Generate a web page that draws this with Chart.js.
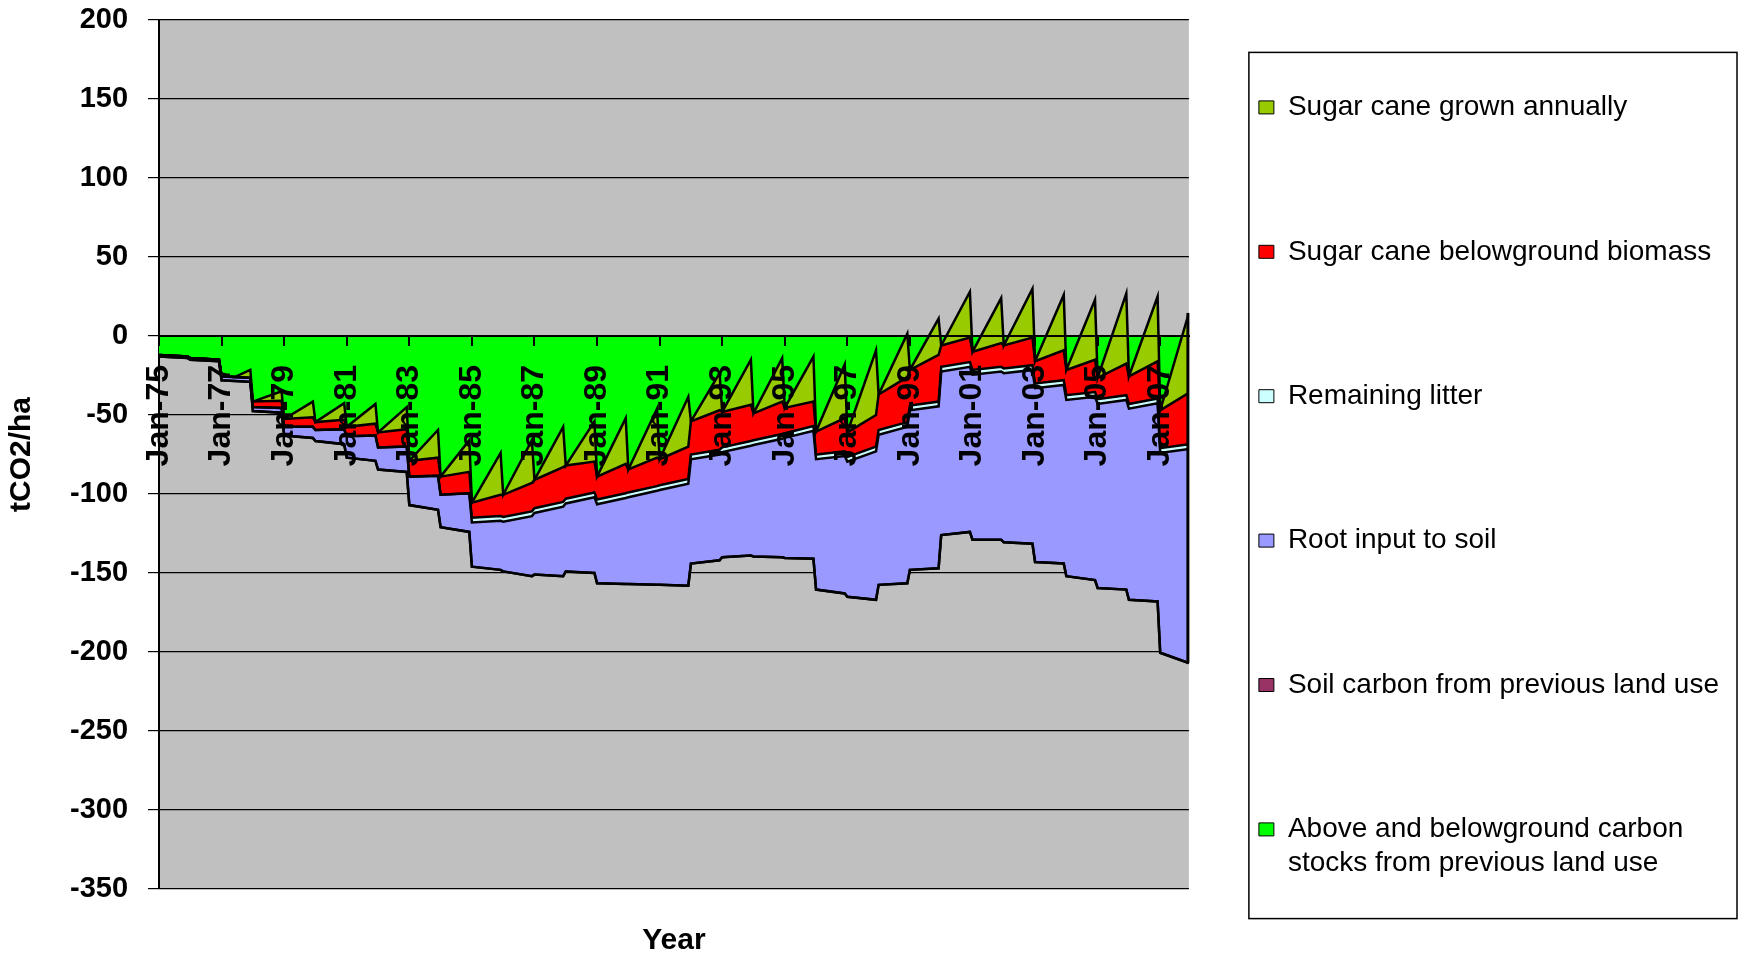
<!DOCTYPE html>
<html>
<head>
<meta charset="utf-8">
<title>Carbon stocks</title>
<script src="https://cdn.jsdelivr.net/npm/chart.js@4.4.1/dist/chart.umd.min.js"></script>
<style>
  html, body { margin: 0; padding: 0; background: #ffffff; }
  #wrap { width: 1739px; height: 956px; }
</style>
</head>
<body>
<div id="wrap"><canvas id="carbonChart" width="1739" height="956"></canvas></div>
<script>
// month number from Jan-75 (0) to Dec-07 (395), corners of the yearly saw teeth
const monthIndex = [
  0, 11,   12, 23,   24, 29, 35,   36, 47,   48, 59,   60, 71,   72, 83,   84, 95,
  96, 107, 108, 119, 120, 131, 132, 143, 144, 155, 156, 167, 168, 179, 180, 191,
  192, 203, 204, 215, 216, 227, 228, 239, 240, 251, 252, 263, 264, 275, 276, 287,
  288, 299, 300, 311, 312, 323, 324, 335, 336, 347, 348, 359, 360, 371, 372, 383,
  384, 395
];

const tickMonths = [0, 24, 48, 72, 96, 120, 144, 168, 192, 216, 240, 264, 288, 312, 336, 360, 384];
const tickLabels = ['Jan-75', 'Jan-77', 'Jan-79', 'Jan-81', 'Jan-83', 'Jan-85', 'Jan-87', 'Jan-89',
  'Jan-91', 'Jan-93', 'Jan-95', 'Jan-97', 'Jan-99', 'Jan-01', 'Jan-03', 'Jan-05', 'Jan-07'];

// series values (tCO2/ha), stacked in this order
const aboveBelowStocks = [
  -13, -14,   -15, -16,   -28, -28.5, -29,   -47.5, -48.5,   -63, -64.5,   -66.5, -68.5,
  -77, -79,   -84.5, -86,   -107, -110,   -121, -124,   -146, -148,   -149, -152,
  -151, -152,   -149, -150,   -156.5, -157,   -157, -157.5,   -157.5, -158,   -144, -142,
  -140, -139,   -139.5, -140,   -140.5, -141,   -160.5, -163,   -165, -167,   -157.5, -156.5,
  -148, -147,   -126, -124,   -129, -129,   -130.5, -131.5,   -143, -144,   -152, -154.5,
  -159.5, -160.5,   -167, -168,   -200.5, -207
];
const soilCarbonPrevious = [
  0, 0,   0, 0,   0, 0, 0,   0, 0,   0, 0,   0, 0,   0, 0,   0, 0,   0, 0,   0, 0,
  0, 0,   0, 0,   0, 0,   0, 0,   0, 0,   0, 0,   0, 0,   0, 0,   0, 0,   0, 0,
  0, 0,   0, 0,   0, 0,   0, 0,   0, 0,   0, 0,   0, 0,   0, 0,   0, 0,   0, 0,
  0, 0,   0, 0,   0, 0
];
const rootInput = [
  1, 1,   1, 1,   2.5, 2.5, 2.5,   2.5, 3,   5.5, 7,   7, 9.5,   13.5, 16,   14, 16,
  18, 21.5,   20.5, 24.5,   28, 31,   31.5, 38,   39, 44,   43, 48,   50, 54.5,
  55, 59.5,   60, 64.5,   66, 67,   66.5, 69.5,   70.5, 75,   76, 81,   82.5, 87,
  85.5, 94,   95, 99,   101, 102.5,   103.5, 104.5,   104.5, 106.5,   107, 110,
  110, 113,   111.5, 116,   116.5, 120,   121, 125.5,   126.5, 135.5
];
const remainingLitter = [
  0, 0,   0, 0,   0, 0, 0,   0, 0,   0, 0,   0, 0,   0, 0,   0, 0,   0, 0,   0, 0,
  3, 3,   3, 3,   3, 3,   3, 3,   3, 3,   3, 3,   3, 3,   3, 3,   3, 3,   3, 3,
  3, 3,   3, 3,   3, 3,   3, 3,   3, 3,   3, 3,   3, 3,   3, 3,   3, 3,   3, 3,
  3, 3,   3, 3,   3, 3
];
const caneBelowground = [
  0, 0,   0, 0,   0, 0, 0,   3.5, 4.5,   5, 6,   5, 6,   6, 7.5,   9.5, 11,   10, 11.5,
  11.5, 13.5,   9.5, 13.5,   14, 18,   18, 22,   21, 19.5,   14.5, 18.5,   14.5, 18,
  16.5, 20.5,   21, 25,   22.5, 23,   17, 20.5,   16, 15.5,   14.5, 21,   15.5, 20,
  22.5, 28.5,   22.5, 29.5,   13.5, 15.5,   11.5, 15,   14.5, 17.5,   14, 19,
  16, 20.5,   13.5, 20,   17.5, 23.5,   24, 32.5
];
const caneAnnual = [
  0, 0,   0, 0,   0, 0, 5,   0, 6,   0, 10,   0, 10.5,   0, 12.5,   0, 14,   0, 17.5,
  0, 20,   0, 26.5,   0, 27,   0, 25.5,   0, 25.5,   0, 29,   0, 31,   0, 31.5,
  0, 23.5,   0, 28.5,   0, 27.5,   0, 28.5,   0, 34,   0, 41,   0, 27.5,   0, 23,
  0, 29,   0, 28.5,   0, 31,   0, 35,   0, 38,   0, 44.5,   0, 41,   0, 50.5
];

const seriesNames = [
  'Above and belowground carbon stocks from previous land use',
  'Soil carbon from previous land use',
  'Root input to soil',
  'Remaining litter',
  'Sugar cane belowground biomass',
  'Sugar cane grown annually'
];
const seriesColors = ['#00FF00', '#993366', '#9999FF', '#CCFFFF', '#FF0000', '#99CC00'];
const longLabelLines = ['Above and belowground carbon', 'stocks from previous land use'];

// running totals so each area sits on the one below it
const seriesValues = [aboveBelowStocks, soilCarbonPrevious, rootInput, remainingLitter, caneBelowground, caneAnnual];
const running = monthIndex.map(() => 0);
const stackedLines = seriesValues.map((vals) => {
  vals.forEach((v, i) => { running[i] += v; });
  return monthIndex.map((m, i) => ({ x: m, y: running[i] }));
});

// grey plot area
const plotBackground = {
  id: 'plotBackground',
  beforeDraw(chart) {
    const { ctx, chartArea } = chart;
    ctx.save();
    ctx.fillStyle = '#C0C0C0';
    ctx.fillRect(chartArea.left, chartArea.top, chartArea.right - chartArea.left, chartArea.bottom - chartArea.top);
    ctx.restore();
  }
};

// Excel outlines the areas, so close them on the right hand side too
const areaEdge = {
  id: 'areaEdge',
  afterDatasetsDraw(chart) {
    const { ctx, scales } = chart;
    const last = monthIndex.length - 1;
    const topLine = stackedLines[stackedLines.length - 1];
    const x = scales.x.getPixelForValue(monthIndex[last]);
    const yTop = scales.y.getPixelForValue(Math.max(topLine[last].y, 0));
    const yBottom = scales.y.getPixelForValue(stackedLines[0][last].y);
    ctx.save();
    ctx.strokeStyle = '#000';
    ctx.lineWidth = 3;
    ctx.beginPath();
    ctx.moveTo(x - 1, yTop);
    ctx.lineTo(x - 1, yBottom);
    ctx.stroke();
    ctx.restore();
  }
};

// frame round the legend, like the Excel one
const legendFrame = {
  id: 'legendFrame',
  afterDraw(chart) {
    const boxes = chart.legend && chart.legend.legendHitBoxes;
    if (!boxes || !boxes.length) return;
    const first = boxes[0];
    const last = boxes[boxes.length - 1];
    const left = Math.min(...boxes.map(b => b.left)) - 10;
    const top = first.top - 41;
    const bottom = last.top + last.height + 36;
    const right = chart.width - 2;
    const ctx = chart.ctx;
    ctx.save();
    ctx.strokeStyle = '#000';
    ctx.lineWidth = 1.5;
    ctx.strokeRect(left, top, right - left, bottom - top);
    ctx.restore();
  }
};

Chart.defaults.font.family = '"Liberation Sans", Arial, sans-serif';
Chart.defaults.color = '#000';

const ctx = document.getElementById('carbonChart').getContext('2d');
new Chart(ctx, {
  type: 'line',
  data: {
    datasets: seriesValues.map((vals, i) => ({
      label: seriesNames[i],
      data: stackedLines[i],
      backgroundColor: seriesColors[i],
      borderColor: '#000',
      borderWidth: 2.5,
      pointRadius: 0,
      tension: 0,
      fill: i === 0 ? 'origin' : '-1',
      order: seriesValues.length - i
    }))
  },
  options: {
    responsive: false,
    animation: false,
    events: [],
    layout: { padding: { top: 20, right: 10, bottom: 0, left: 0 } },
    scales: {
      x: {
        type: 'linear',
        position: { y: 0 },
        min: 0,
        max: 395,
        afterBuildTicks: (scale) => { scale.ticks = tickMonths.map(v => ({ value: v })); },
        ticks: {
          autoSkip: false,
          minRotation: 90,
          maxRotation: 90,
          padding: 20,
          z: 1,
          font: { size: 32, weight: 'bold' },
          callback: (value, index) => tickLabels[index]
        },
        grid: { drawOnChartArea: false, drawTicks: true, tickLength: 9, color: '#000', lineWidth: 2, z: 1 },
        border: { display: true, color: '#000', width: 2, z: 1 }
      },
      x2: {
        type: 'linear',
        position: 'bottom',
        ticks: { display: false },
        grid: { display: false, drawTicks: false },
        border: { display: false },
        title: {
          display: true,
          text: 'Year',
          font: { size: 30, weight: 'bold', lineHeight: 1 },
          padding: { top: 37, bottom: 0 }
        }
      },
      y: {
        min: -350,
        max: 200,
        ticks: { stepSize: 50, padding: 20, font: { size: 29, weight: 'bold' } },
        grid: { color: '#000', lineWidth: 1.2, tickLength: 11 },
        border: { color: '#000', width: 2 },
        title: {
          display: true,
          text: 'tCO2/ha',
          font: { size: 30, weight: 'bold' },
          padding: { top: 4, bottom: 10 }
        },
        afterFit: (scale) => { scale.paddingTop = 18; }
      },
      y2: {
        type: 'linear',
        position: 'right',
        ticks: { display: false },
        grid: { display: false, drawTicks: false },
        border: { display: false },
        afterFit: (scale) => { scale.width = 60; }
      }
    },
    plugins: {
      filler: { drawTime: 'beforeDatasetsDraw' },
      tooltip: { enabled: false },
      legend: {
        position: 'right',
        maxWidth: 520,
        labels: {
          boxWidth: 15,
          boxHeight: 13,
          padding: 10,
          color: '#000',
          font: { size: 28 },
          generateLabels(chart) {
            const items = Chart.defaults.plugins.legend.labels.generateLabels(chart);
            return items.map((item) => {
              const lines = item.datasetIndex === 0 ? longLabelLines.slice() : [item.text];
              if (item.datasetIndex !== 0) {
                while (lines.length < 4) lines.push('');
              }
              item.text = lines;
              item.lineWidth = 1;
              return item;
            });
          }
        }
      }
    }
  },
  plugins: [plotBackground, areaEdge, legendFrame]
});
</script>
</body>
</html>
